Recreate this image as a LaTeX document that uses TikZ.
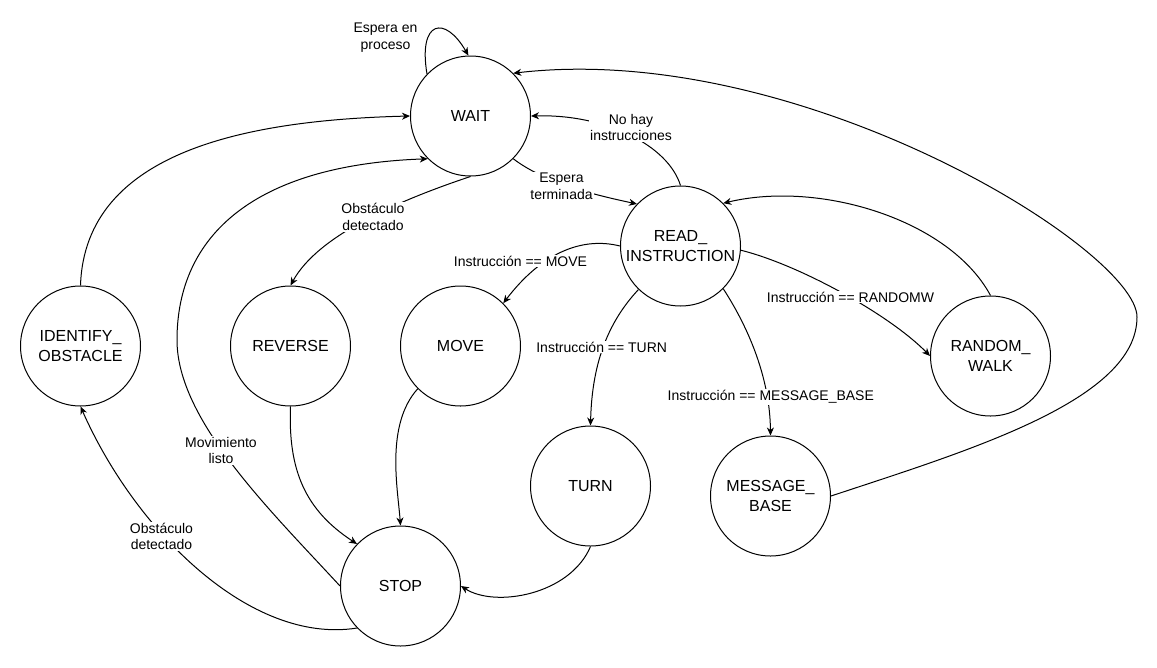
\documentclass[tikz,border=0pt]{standalone}
\usepackage{fontspec}
\setmainfont{Liberation Sans}
\usetikzlibrary{arrows.meta}
\begin{document}
\begin{tikzpicture}[x=1pt,y=-1pt,
  state/.style={circle,draw,line width=1pt,minimum size=120pt,inner sep=0pt,align=center,font=\fontsize{16}{19.2}\selectfont},
  conn/.style={draw,line width=1pt,-{Stealth[length=8pt,width=7pt,inset=2.5pt]}},
  lbl/.style={fill=white,inner sep=1pt,align=center,font=\fontsize{14}{16.8}\selectfont}]
\useasboundingbox (0,0) rectangle (1157,667);
\fill[white] (0,0) rectangle (1157,667);

% states
\node[state] (wait)    at (470.5,116) {WAIT};
\node[state] (read)    at (680.5,246) {READ\_\\INSTRUCTION};
\node[state] (ident)   at (80.5,346)  {IDENTIFY\_\\OBSTACLE};
\node[state] (reverse) at (290.5,346) {REVERSE};
\node[state] (move)    at (460.5,346) {MOVE};
\node[state] (random)  at (990.5,356) {RANDOM\_\\WALK};
\node[state] (turn)    at (590.5,486) {TURN};
\node[state] (msg)     at (770.5,496) {MESSAGE\_\\BASE};
\node[state] (stop)    at (400.5,586) {STOP};

% connectors
\draw[conn] (wait.136) .. controls (418,20) and (445,15) .. (wait.92);
\draw[conn] (msg.0) .. controls (970,450) and (1137,400) .. (1137,317)
            .. controls (1137,250) and (800,40) .. (wait.45);
\draw[conn] (read.90) .. controls (668,145) and (605,114) .. (wait.0);
\draw[conn] (wait.-45) .. controls (545,183) and (595,195) .. (read.136);
\draw[conn] (wait.-90) .. controls (400,200) and (318,235) .. (reverse.90);
\draw[conn] (ident.90) .. controls (85,150) and (250,120) .. (wait.180);
\draw[conn] (stop.180) .. controls (270,510) and (177,420) .. (177,340)
            .. controls (177,235) and (255,165) .. (wait.-135);
\draw[conn] (stop.-136) .. controls (250,645) and (135,530) .. (ident.-90);
\draw[conn] (reverse.-90) .. controls (288,470) and (305,510) .. (stop.136);
\draw[conn] (move.-135) .. controls (385,425) and (398,490) .. (stop.90);
\draw[conn] (turn.-90) .. controls (570,595) and (495,608) .. (stop.0);
\draw[conn] (read.180) .. controls (580,236) and (540,255) .. (move.45);
\draw[conn] (read.-134) .. controls (610,320) and (592,360) .. (turn.90);
\draw[conn] (read.-45) .. controls (750,330) and (770,380) .. (msg.90);
\draw[conn] (read.-4) .. controls (800,265) and (890,315) .. (random.180);
\draw[conn] (random.90) .. controls (950,220) and (820,180) .. (read.45);

% labels
\node[lbl] (lloop)  at (385.5,37.5) {Espera en\\proceso};
\node[lbl] (lnohay) at (631,127.5)  {No hay\\instrucciones};
\node[lbl] (lesp)   at (561.5,186)  {Espera\\terminada};
\node[lbl] (lobs1)  at (373,217)    {Obstáculo\\detectado};
\node[lbl] (lmov)   at (221,450.5)  {Movimiento\\listo};
\node[lbl] (lobs2)  at (161.5,536.5) {Obstáculo\\detectado};
\node[lbl] (lmove)  at (520.5,261)  {Instrucción == MOVE};
\node[lbl] (lturn)  at (601.7,347)  {Instrucción == TURN};
\node[lbl] (lmsg)   at (770.8,397)  {Instrucción == MESSAGE\_BASE};
\node[lbl] (lrw)    at (850.5,297)  {Instrucción == RANDOMW};
\end{tikzpicture}
\end{document}
